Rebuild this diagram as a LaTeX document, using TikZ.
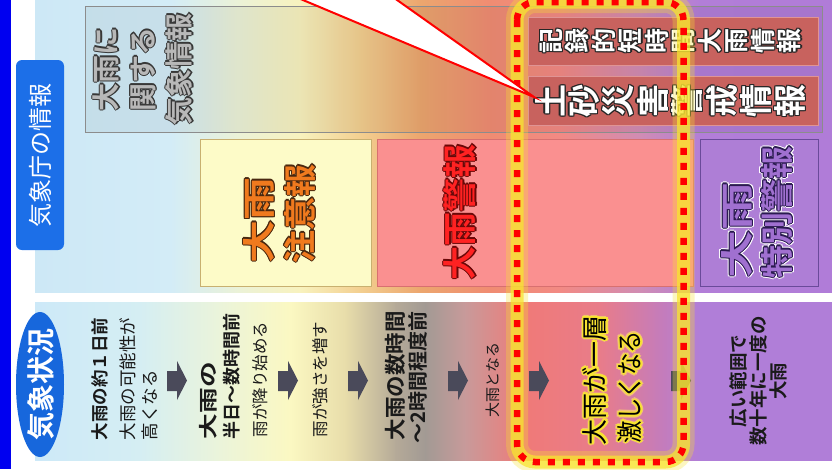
\documentclass[tikz,border=0pt]{standalone}
\usepackage{graphicx}
\usepackage{fontspec}
\setmainfont{Noto Sans CJK JP}[BoldFont={Noto Sans CJK JP Bold}]
\usetikzlibrary{shapes.geometric}
\newdimen\oloff
\newcommand\olt[4]{{\oloff=#1\relax\setbox0=\hbox{#4}%
 \leavevmode\rlap{\color{#2}%
 \rlap{\kern\oloff\copy0}\rlap{\kern-\oloff\copy0}%
 \rlap{\raise\oloff\copy0}\rlap{\lower\oloff\copy0}%
 \rlap{\kern.7\oloff\raise.7\oloff\copy0}\rlap{\kern-.7\oloff\raise.7\oloff\copy0}%
 \rlap{\kern.7\oloff\lower.7\oloff\copy0}\rlap{\kern-.7\oloff\lower.7\oloff\copy0}}%
 {\color{#3}\box0}}}
\newcommand\wc[1]{\olt{1.2pt}{black!85}{white}{#1}}
\newcommand\gy[1]{\olt{1.2pt}{black!78}{black!28}{#1}}
\newcommand\og[1]{\olt{1.3pt}{chuiout}{chuifill}{#1}}
\newcommand\rd[1]{\olt{1.3pt}{keihoout}{keihofill}{#1}}
\newcommand\pu[1]{\rlap{\olt{2.3pt}{white}{white}{#1}}\olt{1.2pt}{tokuout}{tokufill}{#1}}
\newcommand\yb[1]{\rlap{\olt{2.8pt}{glowsoft}{glowsoft}{#1}}\olt{1.5pt}{glowy}{black}{#1}}
\definecolor{stripe}{HTML}{0000F0}
\definecolor{jmablue}{HTML}{1C6FE8}
\definecolor{jmablue2}{HTML}{1767DC}
\definecolor{u1}{HTML}{CDE8F6}\definecolor{u2}{HTML}{D3ECF7}\definecolor{u3}{HTML}{ECF2D6}
\definecolor{u4}{HTML}{F8F2BE}\definecolor{u5}{HTML}{F3CF90}\definecolor{u6}{HTML}{ECA66E}
\definecolor{u7}{HTML}{F08C72}\definecolor{u8}{HTML}{F28A84}\definecolor{u9}{HTML}{D08CB4}
\definecolor{u10}{HTML}{B27ED8}\definecolor{u11}{HTML}{B07CD8}
\definecolor{l1}{HTML}{CDE9F8}\definecolor{l2}{HTML}{D5EEF3}\definecolor{l3}{HTML}{EBF4DA}
\definecolor{l4}{HTML}{FBF8C2}\definecolor{l5}{HTML}{E8DDAA}\definecolor{l6}{HTML}{B5AA98}
\definecolor{l7}{HTML}{A29A94}\definecolor{l8}{HTML}{C89A9A}\definecolor{l9}{HTML}{F07A78}
\definecolor{l10}{HTML}{E87C8A}\definecolor{l11}{HTML}{C87CB6}\definecolor{l12}{HTML}{B07ED8}
\definecolor{l13}{HTML}{B07ED8}
\definecolor{yboxc}{HTML}{FDFBC8}\definecolor{ybord}{HTML}{C8B070}
\definecolor{pboxc}{HTML}{FA9090}\definecolor{pbord}{HTML}{D87070}
\definecolor{vboxc}{HTML}{AE7ED6}\definecolor{vbord}{HTML}{6A4A9A}
\definecolor{rboxc}{HTML}{C8625E}\definecolor{rbord}{HTML}{E09494}
\definecolor{chuifill}{HTML}{F07A1E}\definecolor{chuiout}{HTML}{4A2810}
\definecolor{keihofill}{HTML}{FF2222}\definecolor{keihoout}{HTML}{6A0808}
\definecolor{tokufill}{HTML}{A070D0}\definecolor{tokuout}{HTML}{2A1A50}
\definecolor{glowy}{HTML}{F8E430}
\definecolor{glowsoft}{HTML}{F2C07A}
\definecolor{arrowc}{HTML}{4A4A5A}
\definecolor{txt}{HTML}{1A1A1A}
\begin{document}
\begin{tikzpicture}[x=1pt,y=-1pt,
  vt/.style={rotate=90,inner sep=0pt,outer sep=0pt,text=txt},
  frame/.style={rounded corners=18pt},
  blockarrow/.style={fill=arrowc}]
\useasboundingbox (0,0) rectangle (832,469);
\clip (0,0) rectangle (832,469);
\fill[white] (0,0) rectangle (832,469);
\fill[stripe] (0,0) rectangle (11,469);
% upper panel gradient
\foreach \xa/\ca/\xb/\cb in {35/u1/170/u2,170/u2/240/u3,240/u3/300/u4,300/u4/360/u5,360/u5/420/u6,420/u6/490/u7,490/u7/560/u8,560/u8/640/u9,640/u9/700/u10,700/u10/832/u11}
  {\shade[left color=\ca,right color=\cb] (\xa,-2) rectangle (\xb+0.6,292);}
% lower panel gradient
\foreach \xa/\ca/\xb/\cb in {35/l1/140/l2,140/l2/220/l3,220/l3/290/l4,290/l4/345/l5,345/l5/395/l6,395/l6/425/l7,425/l7/465/l8,465/l8/525/l9,525/l9/600/l10,600/l10/655/l11,655/l11/700/l12,700/l12/832/l13}
  {\shade[left color=\ca,right color=\cb] (\xa,302) rectangle (\xb+0.6,460);}
% boxes
\draw[black!45, fill=black, fill opacity=0.05] (85,6) rectangle (822,132);
\draw[ybord, fill=yboxc] (200,139) rectangle (371,286);
\draw[pbord, fill=pboxc] (377,139) rectangle (693,286);
\draw[vbord, fill=vboxc] (700,139) rectangle (818,286);
\draw[rbord, fill=rboxc] (528,17) rectangle (818,65);
\draw[rbord, fill=rboxc] (528,76) rectangle (818,125);
% side headers
\node[fill=jmablue, rounded corners=6pt, rotate=90, minimum width=190pt, minimum height=48pt, inner sep=0pt, text=white, font=\fontsize{24}{24}\selectfont] (jma) at (40,155) {気象庁の情報};
\fill[jmablue2] (40,384.5) ellipse [x radius=24pt, y radius=72.5pt];
\node[vt, text=white, font=\fontsize{28}{28}\selectfont\bfseries] (kisho) at (41,384.5) {気象状況};
% upper texts
\node[vt, align=center, font=\fontsize{28}{36.5}\selectfont\bfseries] (kansuru) at (143,69) {\gy{大雨に}\\\gy{関する}\\\gy{気象情報}};
\node[vt, anchor=west, align=left, font=\fontsize{33}{41}\selectfont\bfseries] (chui) at (279.5,263) {\og{\scalebox{1.3}[1]{大雨}}\\\og{注意報}};
\node[vt, font=\fontsize{34}{34}\selectfont\bfseries] (keiho) at (460,212) {\rd{大雨警報}};
\node[vt, anchor=west, align=left, font=\fontsize{33}{40}\selectfont\bfseries] (toku) at (757,278) {\pu{\scalebox{1.45}[1]{大雨}}\\\pu{特別警報}};
\node[vt, align=center, font=\fontsize{25}{26.5}\selectfont\bfseries] (kiroku) at (670.5,41) {\wc{記}\\\wc{録}\\\wc{的}\\\wc{短}\\\wc{時}\\\wc{間}\\\wc{大}\\\wc{雨}\\\wc{情}\\\wc{報}};
\node[vt, align=center, font=\fontsize{33}{33}\selectfont\bfseries] (dosha) at (670.5,101) {\wc{土}\\\wc{砂}\\\wc{災}\\\wc{害}\\\wc{警}\\\wc{戒}\\\wc{情}\\\wc{報}};
% lower texts
\node[vt, anchor=west, font=\fontsize{17.5}{17.5}\selectfont\bfseries] (c1a) at (100,440) {大雨の約１日前};
\node[vt, anchor=west, align=left, font=\fontsize{17.5}{22}\selectfont] (c1b) at (139,440) {大雨の可能性が\\高くなる};
\node[vt, anchor=west, font=\fontsize{19}{19}\selectfont\bfseries] (c2a) at (208,439) {\scalebox{1.35}[1]{大雨の}};
\node[vt, anchor=west, font=\fontsize{18}{18}\selectfont\bfseries] (c2b) at (232,439) {半日～数時間前};
\node[vt, anchor=west, font=\fontsize{16.5}{16.5}\selectfont] (c2c) at (260,437) {雨が降り始める};
\node[vt, anchor=west, font=\fontsize{16.5}{16.5}\selectfont] (c3) at (320,437) {雨が強さを増す};
\node[vt, anchor=west, font=\fontsize{21.5}{21.5}\selectfont\bfseries] (c4a) at (395,440) {大雨の数時間};
\node[vt, anchor=west, font=\fontsize{20}{20}\selectfont\bfseries] (c4b) at (418,443) {～2時間程度前};
\node[vt, font=\fontsize{15}{15}\selectfont] (c5) at (493,380) {大雨となる};
\node[vt, anchor=west, font=\fontsize{26}{26}\selectfont] (c6a) at (595,445) {\yb{大雨が一層}};
\node[vt, anchor=west, font=\fontsize{26}{26}\selectfont] (c6b) at (630,443) {\yb{\scalebox{0.86}[1]{激しくなる}}};
\node[vt, align=center, font=\fontsize{18.5}{20}\selectfont\bfseries] (c7) at (758,381) {広い範囲で\\数十年に一度の\\大雨};
% arrows
\foreach \ax in {167,278,348,448,529,671}
  {\fill[blockarrow] (\ax,371) -- (\ax+10,371) -- (\ax+10,361) -- (\ax+20,380.5) -- (\ax+10,400) -- (\ax+10,391) -- (\ax,391) -- cycle;}
% highlight frame
\draw[glowy, line width=22pt, opacity=0.3, frame] (517,2) rectangle (683.5,462);
\draw[glowy, line width=13pt, opacity=0.75, frame] (517,2) rectangle (683.5,462);
\draw[red, line width=6.5pt, dash pattern=on 7pt off 8pt, frame] (517,2) rectangle (683.5,462);
% callout
\coordinate (calloutA) at (291,-5);
\coordinate (calloutB) at (390,-5);
\coordinate (callouttip) at (534,97);
\draw[red, line width=2pt, fill=white, line join=miter] (calloutA) -- (callouttip) -- (calloutB);
\end{tikzpicture}
\end{document}
